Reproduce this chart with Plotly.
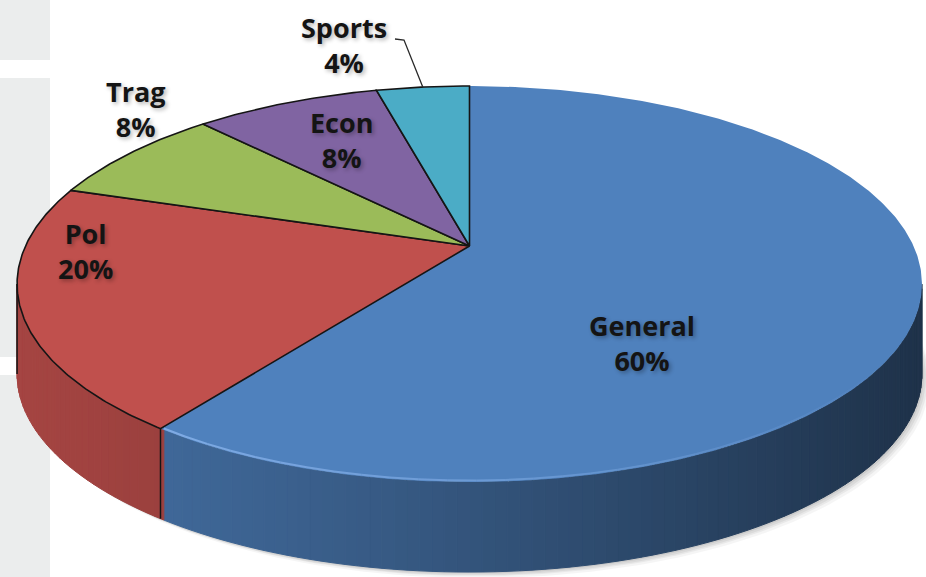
import numpy as np
import plotly.graph_objects as go

# ---- data (clockwise from 12 o'clock) ----
categories = ["General", "Pol", "Trag", "Econ", "Sports"]
values = [60, 20, 8, 8, 4]
pct_labels = ["60%", "20%", "8%", "8%", "4%"]
colors = ["#4F81BD", "#C0504D", "#9BBB59", "#8064A2", "#4BACC6"]

# ---- 3D pie projection (layout constants, pixel space) ----
W, H = 926, 577
CX, CY, K = 469.5, 246.0, 444.0
S_T, C_T, DIST = 0.4295, 0.903, 4.70
HPX = 90.0  # extrusion height in px


def proj(phi_deg, r=1.0):
    phi = np.radians(phi_deg)
    X = r * np.sin(phi)
    Z = r * np.cos(phi)
    depth = DIST + Z * C_T
    sx = X * DIST / depth
    sy = Z * S_T * DIST / depth
    return CX + K * sx, CY - K * sy


def hex2rgb(h):
    h = h.lstrip("#")
    return np.array([int(h[i:i + 2], 16) for i in (0, 2, 4)], dtype=float)


total = float(sum(values))
bounds = np.concatenate([[0.0], np.cumsum(values) / total * 360.0])

fig = go.Figure()

# silhouette angles (extreme x of the rim)
grid = np.linspace(90, 270, 3601)
gx, _ = proj(grid)
phi_R = grid[np.argmax(gx)]
phi_L = grid[np.argmin(gx)]

# soft drop shadow
for dx, dy, a in [(8, 6, 0.04), (6, 4, 0.05), (4, 3, 0.06), (2, 1.5, 0.07)]:
    ph = np.linspace(0, 360, 361)
    px, py = proj(ph)
    fig.add_trace(go.Scatter(x=px + dx, y=py + HPX + dy, mode="lines", fill="toself",
                             fillcolor=f"rgba(0,0,0,{a})", line=dict(width=0),
                             hoverinfo="skip", showlegend=False))

# side walls
nseg = 120
edges = np.linspace(phi_R, phi_L, nseg + 1)
for i in range(nseg):
    a0, a1 = edges[i], edges[i + 1]
    mid = 0.5 * (a0 + a1)
    k = int(np.searchsorted(bounds, mid, side="right") - 1)
    k = min(max(k, 0), len(values) - 1)
    ph = np.linspace(a0, a1, 4)
    px, py = proj(ph)
    mx, _ = proj(mid)
    t = np.clip((mx - 17) / 905.0, 0, 1)
    f = 0.86 - 0.47 * t ** 1.2
    col = np.clip(hex2rgb(colors[k]) * f, 0, 255).astype(int)
    cs = f"rgb({col[0]},{col[1]},{col[2]})"
    xs = np.concatenate([px, px[::-1], [px[0]]])
    ys = np.concatenate([py, (py + HPX)[::-1], [py[0]]])
    fig.add_trace(go.Scatter(x=xs, y=ys, mode="lines", fill="toself", fillcolor=cs,
                             line=dict(width=1, color=cs), hoverinfo="skip", showlegend=False))

# black edges on side for non-General front slices
for k in range(1, len(values)):
    a0, a1 = bounds[k], bounds[k + 1]
    lo, hi = max(a0, phi_R), min(a1, phi_L)
    if lo < hi:
        for e in (lo, hi):
            ex, ey = proj(e)
            fig.add_trace(go.Scatter(x=[ex, ex], y=[ey, ey + HPX], mode="lines",
                                     line=dict(color="#151515", width=1.5),
                                     hoverinfo="skip", showlegend=False))

# top faces
for k, (cat, v) in enumerate(zip(categories, values)):
    a0, a1 = bounds[k], bounds[k + 1]
    ph = np.linspace(a0, a1, max(int((a1 - a0) * 2), 8))
    px, py = proj(ph)
    xs = np.concatenate([[CX], px, [CX]])
    ys = np.concatenate([[CY], py, [CY]])
    line = dict(width=0, color=colors[k]) if k == 0 else dict(width=1.6, color="#151515")
    fig.add_trace(go.Scatter(x=xs, y=ys, mode="lines", fill="toself", fillcolor=colors[k],
                             line=line, name=cat, hoverinfo="skip", showlegend=False))

# bevel highlight on the front rim of the General top (fading toward the right)
hl = np.linspace(125, min(bounds[1], phi_L) - 0.5, 31)
for i in range(len(hl) - 1):
    ph = np.linspace(hl[i], hl[i + 1], 4)
    px, py = proj(ph)
    a = 0.85 * (i + 1) / (len(hl) - 1)
    fig.add_trace(go.Scatter(x=px, y=py - 1.5, mode="lines",
                             line=dict(color=f"rgba(135,178,235,{a:.3f})", width=2),
                             hoverinfo="skip", showlegend=False))

# leader line for the Sports label
sp_mid = 0.5 * (bounds[4] + bounds[5])
axp, ayp = proj(sp_mid)
fig.add_trace(go.Scatter(x=[395, 404, axp], y=[39, 40, ayp], mode="lines",
                         line=dict(color="#2a2a2a", width=1.3),
                         hoverinfo="skip", showlegend=False))

# labels
label_pos = {"General": (642, 343), "Pol": (85, 251), "Trag": (135, 109),
             "Econ": (341, 140), "Sports": (344, 45)}
for cat, p in zip(categories, pct_labels):
    x0, y0 = label_pos[cat]
    fig.add_annotation(x=x0, y=y0, xref="x", yref="y", text=f"{cat}<br>{p}",
                       showarrow=False, xanchor="center", yanchor="middle",
                       font=dict(family="Open Sans", size=27, color="#141414",
                                 weight="bold", shadow="2px 2px 4px rgba(0,0,0,0.30)"))

# grey page panels on the left
for y0, y1 in [(0, 60), (78, 357), (375, 577)]:
    fig.add_shape(type="rect", xref="x", yref="y", x0=0, x1=50, y0=y0, y1=y1,
                  fillcolor="#EBEDED", line=dict(width=0), layer="below")

fig.update_layout(
    width=W, height=H, margin=dict(l=0, r=0, t=0, b=0),
    paper_bgcolor="white", plot_bgcolor="white",
    xaxis=dict(range=[0, W], visible=False, fixedrange=True),
    yaxis=dict(range=[H, 0], visible=False, fixedrange=True),
    showlegend=False,
)
fig.write_html("out.html")
